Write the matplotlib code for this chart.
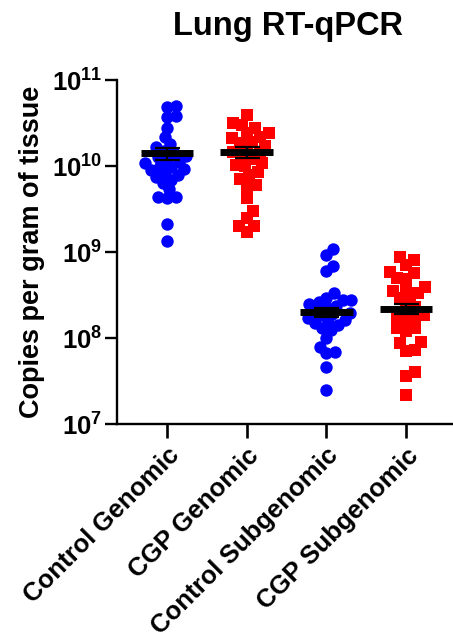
import numpy as np
import matplotlib
matplotlib.use("Agg")
import matplotlib.pyplot as plt
from matplotlib.ticker import FixedLocator, FixedFormatter, NullLocator

plt.rcParams["font.family"] = ["Liberation Sans", "DejaVu Sans"]
plt.rcParams["font.weight"] = "bold"
plt.rcParams["mathtext.fontset"] = "custom"
plt.rcParams["mathtext.rm"] = "Liberation Sans:bold"
plt.rcParams["mathtext.bf"] = "Liberation Sans:bold"

categories = ["Control Genomic", "CGP Genomic", "Control Subgenomic", "CGP Subgenomic"]

control_genomic = [5.0e10, 4.9e10, 3.8e10, 3.7e10, 2.8e10, 2.2e10, 1.8e10, 1.66e10, 1.5e10, 1.4e10,
                   1.3e10, 1.26e10, 1.2e10, 1.12e10, 1.07e10, 1.0e10, 9.8e9, 9.3e9, 8.9e9, 8.3e9,
                   7.9e9, 7.4e9, 6.9e9, 6.3e9, 5.4e9, 4.4e9, 4.4e9, 4.3e9, 2.1e9, 1.35e9]
cgp_genomic = [3.9e10, 3.2e10, 3.0e10, 2.75e10, 2.4e10, 2.4e10, 2.2e10, 2.1e10, 1.9e10, 1.86e10,
               1.7e10, 1.55e10, 1.45e10, 1.38e10, 1.26e10, 1.2e10, 1.07e10, 1.02e10, 1.0e10, 8.5e9,
               7.9e9, 7.1e9, 6.0e9, 5.9e9, 4.3e9, 3.0e9, 2.5e9, 2.0e9, 2.0e9, 1.7e9]
control_subgenomic = [1.07e9, 9.3e8, 6.9e8, 6.0e8, 3.3e8, 2.95e8, 2.8e8, 2.75e8, 2.6e8, 1.95e8,
                      2.5e8, 1.9e8, 2.35e8, 2.3e8, 2.1e8, 1.85e8, 1.7e8, 1.6e8, 1.55e8, 1.5e8,
                      1.4e8, 1.3e8, 1.23e8, 1.0e8, 7.9e7, 6.8e7, 6.7e7, 4.6e7, 2.5e7]
cgp_subgenomic = [8.7e8, 8.1e8, 7.1e8, 5.9e8, 5.7e8, 5.0e8, 4.9e8, 3.9e8, 3.8e8, 3.5e8,
                  3.3e8, 2.95e8, 2.9e8, 2.3e8, 2.3e8, 1.85e8, 1.7e8, 1.7e8, 1.6e8, 1.3e8,
                  1.3e8, 1.2e8, 8.9e7, 8.7e7, 7.2e7, 7.1e7, 4.0e7, 3.6e7, 2.2e7]

means = [1.4e10, 1.45e10, 2.0e8, 2.2e8]
sems = [2.4e9, 2.2e9, 2.5e7, 2.8e7]

groups = [control_genomic, cgp_genomic, control_subgenomic, cgp_subgenomic]
colors = ["#0000ff", "#ff0000", "#0000ff", "#ff0000"]
markers = ["o", "s", "o", "s"]
sizes = [80, 78, 80, 78]
spacing = [8.8, 9.5, 8.8, 9.5]

ytick_vals = [1e7, 1e8, 1e9, 1e10, 1e11]
ytick_labels = [r"$\mathbf{10^{7}}$", r"$\mathbf{10^{8}}$", r"$\mathbf{10^{9}}$",
                r"$\mathbf{10^{10}}$", r"$\mathbf{10^{11}}$"]

fig = plt.figure(figsize=(4.53, 6.39), dpi=100)
ax = fig.add_axes([117 / 453, 215 / 639, 336 / 453, 344 / 639])
ax.set_yscale("log")
ax.set_ylim(1e7, 1e11)
ax.set_xlim(-0.627, 3.59)


def swarm(ypix, d):
    # simple beeswarm: push each point sideways until it no longer overlaps
    xs = np.zeros(len(ypix))
    placed = []
    for i in np.argsort(ypix):
        y = ypix[i]
        near = [(px, py) for px, py in placed if abs(py - y) < d]
        cands = [0.0]
        for px, py in near:
            dx = np.sqrt(d * d - (py - y) ** 2)
            cands += [px + dx, px - dx]
        cands.sort(key=abs)
        for c in cands:
            if all((c - px) ** 2 + (y - py) ** 2 >= d * d - 1e-6 for px, py in near):
                xs[i] = c
                break
        placed.append((xs[i], y))
    return xs


ax_px = ax.get_window_extent().width
px_per_unit = ax_px / (ax.get_xlim()[1] - ax.get_xlim()[0])

for i, vals in enumerate(groups):
    vals = np.array(vals)
    ypix = ax.transData.transform(np.column_stack([np.zeros(len(vals)), vals]))[:, 1]
    off = swarm(ypix, spacing[i]) / px_per_unit
    ax.scatter(i + off, vals, s=sizes[i], marker=markers[i], color=colors[i],
               linewidths=0, zorder=2, clip_on=False)
    ax.errorbar(i, means[i], yerr=sems[i], color="black", lw=1.6, capsize=9,
                capthick=1.6, zorder=3)
    ax.hlines(means[i], i - 0.33, i + 0.33, color="black", lw=5, zorder=4)

for s in ["top", "right"]:
    ax.spines[s].set_visible(False)
for s in ["left", "bottom"]:
    ax.spines[s].set_linewidth(1.7)

ax.yaxis.set_major_locator(FixedLocator(ytick_vals))
ax.yaxis.set_major_formatter(FixedFormatter(ytick_labels))
ax.yaxis.set_minor_locator(NullLocator())
ax.tick_params(axis="y", length=8.5, width=1.7, labelsize=18.5, pad=2)
ax.set_xticks(range(len(categories)))
ax.set_xticklabels(categories, rotation=45, ha="right", va="top",
                   rotation_mode="anchor", fontsize=18.5, fontweight="bold")
ax.tick_params(axis="x", length=10, width=1.9, pad=4)

ax.set_ylabel("Copies per gram of tissue", fontsize=19.5, fontweight="bold", labelpad=5)
fig.text(288 / 453, 1 - 27 / 639, "Lung RT-qPCR", fontsize=23.5, fontweight="bold",
         ha="center", va="center")

fig.savefig("out.png", dpi=100)
